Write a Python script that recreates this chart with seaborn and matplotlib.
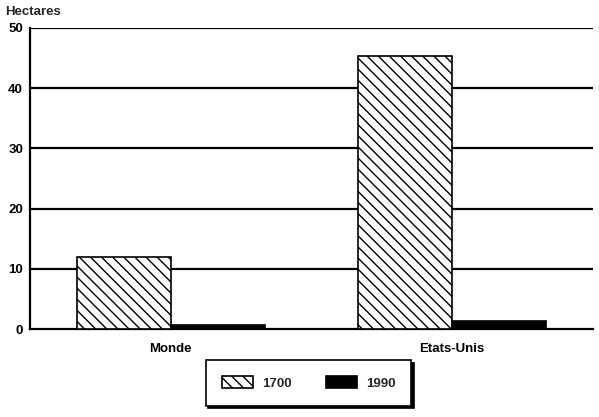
import matplotlib
matplotlib.use("Agg")
import matplotlib.pyplot as plt
import seaborn as sns
import pandas as pd

regions = ["Monde", "Etats-Unis"]
years = ["1700", "1990"]
values_1700 = [12.0, 45.3]
values_1990 = [0.7, 1.3]
yticks = [0, 10, 20, 30, 40, 50]
ylabel = "Hectares"

df = pd.DataFrame({
    "region": regions * 2,
    "year": [years[0]] * len(regions) + [years[1]] * len(regions),
    "value": values_1700 + values_1990,
})

sns.set_theme(style="white")
plt.rcParams["font.family"] = ["Liberation Sans", "DejaVu Sans"]
plt.rcParams["font.weight"] = "bold"
plt.rcParams["hatch.linewidth"] = 1.0
plt.rcParams["hatch.color"] = "black"

fig = plt.figure(figsize=(5.99, 4.17), dpi=100)
ax = fig.add_axes([30 / 599, 1 - 329 / 417, (593 - 30) / 599, (329 - 28) / 417])

sns.barplot(data=df, x="region", y="value", hue="year", order=regions,
            hue_order=years, palette=["white", "black"], edgecolor="black",
            linewidth=1.2, width=0.667, saturation=1, legend=False, ax=ax, zorder=3)

for p in ax.containers[0]:
    p.set_hatch("\\\\\\")

ax.set_ylim(0, 50)
ax.set_xlim(-0.5, 1.5)
ax.set_yticks(yticks)
ax.set_yticklabels([str(t) for t in yticks], fontsize=9.5, fontweight="bold")
ax.tick_params(axis="both", length=0, colors="black")
ax.tick_params(axis="y", pad=5)
ax.tick_params(axis="x", pad=10)
for lbl in ax.get_xticklabels():
    lbl.set_fontsize(9.5)
    lbl.set_fontweight("bold")
ax.set_xlabel("")
ax.set_ylabel("")

for t in yticks[1:]:
    ax.axhline(t, color="black", linewidth=1.6, zorder=1)

for side in ["top", "right"]:
    ax.spines[side].set_visible(False)
ax.spines["left"].set_color("black")
ax.spines["left"].set_linewidth(1.6)
ax.spines["bottom"].set_color("black")
ax.spines["bottom"].set_linewidth(1.6)

fig.text(5 / 599, 1 - 12 / 417, ylabel, fontsize=9.5, fontweight="bold",
         ha="left", va="center")

leg = ax.legend(handles=[ax.containers[0], ax.containers[1]], labels=years,
                loc="center", bbox_to_anchor=(0.515, 0.0815),
                bbox_transform=fig.transFigure, ncol=2, fontsize=9.5,
                frameon=True, fancybox=False, edgecolor="black",
                shadow={"color": "black", "alpha": 1},
                handlelength=2.4, handleheight=1.05, handletextpad=0.65,
                columnspacing=2.6, borderpad=1.2)
leg.get_frame().set_linewidth(1.2)
for txt in leg.get_texts():
    txt.set_fontweight("bold")

fig.savefig("out.png", dpi=100)
